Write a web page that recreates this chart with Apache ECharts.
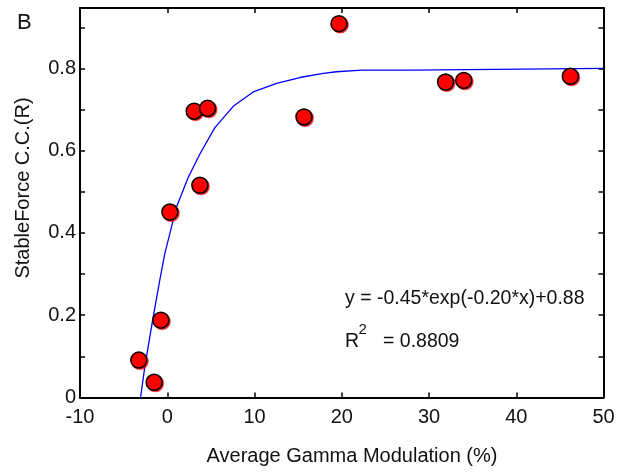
<!DOCTYPE html>
<html>
<head>
<meta charset="utf-8">
<script src="https://cdn.jsdelivr.net/npm/echarts@6/dist/echarts.min.js"></script>
<style>
html,body{margin:0;padding:0;background:#fff;}
#chart{width:621px;height:472px;}
</style>
</head>
<body>
<div id="chart"></div>
<script>
// Scatter data: Average Gamma Modulation (%) vs StableForce C.C.(R)
const pointX = [-3.26, -1.50, -0.73, 0.30, 3.09, 4.62, 3.74, 15.67, 19.68, 31.9, 33.98, 46.2];
const pointY = [0.091, 0.037, 0.188, 0.451, 0.696, 0.703, 0.516, 0.682, 0.909, 0.767, 0.771, 0.781];

// Fitted curve
const curveX = [-3.06, -2.57, -1.62, -0.85, -0.28, 0.49, 1.07, 1.82, 2.40, 3.74, 5.46, 7.56, 9.85, 12.53, 15.2, 17.88, 19.4, 22.3, 28.0, 28.0, 50];
const curveY = [0, 0.075, 0.195, 0.286, 0.350, 0.415, 0.464, 0.504, 0.535, 0.592, 0.656, 0.708, 0.743, 0.764, 0.778, 0.788, 0.792, 0.796, 0.796, 0.800, 0.800];

const xTicks = [-10, 0, 10, 20, 30, 40, 50];
const yTickLabels = ['0', '0.2', '0.4', '0.6', '0.8'];

const equationText = 'y = -0.45*exp(-0.20*x)+0.88';
const r2Text = '= 0.8809';
const panelLabel = 'B';
const xName = 'Average Gamma Modulation (%)';
const yName = 'StableForce C.C.(R)';

const FONT = '"Liberation Sans", Arial, Helvetica, sans-serif';

const scatterData = pointX.map((x, i) => [x, pointY[i]]);
const curveData = curveX.map((x, i) => [x, curveY[i]]);

const chart = echarts.init(document.getElementById('chart'), null, {renderer: 'canvas'});

const yLabelFmt = v => {
  const s = (Math.round(v * 10) / 10).toString();
  return yTickLabels.indexOf(s) >= 0 ? s : '';
};

const option = {
  backgroundColor: '#fff',
  animation: false,
  grid: {left: 80, right: 17.5, top: 8, bottom: 74.5, show: false},
  xAxis: [{
    type: 'value', min: xTicks[0], max: xTicks[xTicks.length - 1], interval: 10,
    position: 'bottom',
    axisLine: {show: true, onZero: false, lineStyle: {color: '#000', width: 2}},
    axisTick: {show: true, inside: true, length: 5, lineStyle: {color: '#000', width: 1.5}},
    axisLabel: {color: '#111', fontFamily: FONT, fontSize: 20, margin: 10},
    splitLine: {show: false}
  }, {
    type: 'value', min: xTicks[0], max: xTicks[xTicks.length - 1], interval: 10,
    position: 'top',
    axisLine: {show: true, onZero: false, lineStyle: {color: '#000', width: 2}},
    axisTick: {show: true, inside: true, length: 5, lineStyle: {color: '#000', width: 1.5}},
    axisLabel: {show: false},
    splitLine: {show: false}
  }],
  yAxis: [{
    type: 'value', min: 0, max: 0.947, interval: 0.1,
    position: 'left',
    axisLine: {show: true, onZero: false, lineStyle: {color: '#000', width: 2}},
    axisTick: {show: true, inside: true, length: 5, lineStyle: {color: '#000', width: 1.5}},
    axisLabel: {color: '#111', fontFamily: FONT, fontSize: 20, margin: 4, formatter: yLabelFmt, showMaxLabel: false},
    splitLine: {show: false}
  }, {
    type: 'value', min: 0, max: 0.947, interval: 0.1,
    position: 'right',
    axisLine: {show: true, onZero: false, lineStyle: {color: '#000', width: 2}},
    axisTick: {show: true, inside: true, length: 5, lineStyle: {color: '#000', width: 1.5}},
    axisLabel: {show: false},
    splitLine: {show: false}
  }],
  graphic: [
    {type: 'text', x: 17, y: 23, style: {text: panelLabel, font: '22px ' + FONT, fill: '#111', verticalAlign: 'middle'}},
    {type: 'text', x: 23, y: 188, rotation: Math.PI / 2,
      style: {text: yName, font: '20px ' + FONT, fill: '#111', align: 'center', verticalAlign: 'middle'}},
    {type: 'text', x: 352, y: 456, style: {text: xName, font: '20px ' + FONT, fill: '#111', align: 'center', verticalAlign: 'middle'}},
    {type: 'text', x: 345, y: 299, style: {text: equationText, font: '19.5px ' + FONT, fill: '#111', verticalAlign: 'middle'}},
    {type: 'text', x: 345, y: 342, style: {text: 'R', font: '19.5px ' + FONT, fill: '#111', verticalAlign: 'middle'}},
    {type: 'text', x: 358.5, y: 330, style: {text: '2', font: '15px ' + FONT, fill: '#111', verticalAlign: 'middle'}},
    {type: 'text', x: 383, y: 342, style: {text: r2Text, font: '19.5px ' + FONT, fill: '#111', verticalAlign: 'middle'}}
  ],
  series: [{
    type: 'line',
    data: curveData,
    showSymbol: false,
    symbol: 'none',
    smooth: false,
    lineStyle: {color: '#0000ff', width: 1.3},
    z: 2,
    silent: true
  }, {
    type: 'scatter',
    data: scatterData,
    symbol: 'circle',
    symbolSize: 16,
    itemStyle: {color: '#ff0000', borderColor: '#000', borderWidth: 1.5,
      shadowColor: 'rgba(255,0,0,0.7)', shadowOffsetX: 1.2, shadowOffsetY: 1.2, shadowBlur: 0, opacity: 1},
    z: 3
  }]
};
chart.setOption(option);
</script>
</body>
</html>
